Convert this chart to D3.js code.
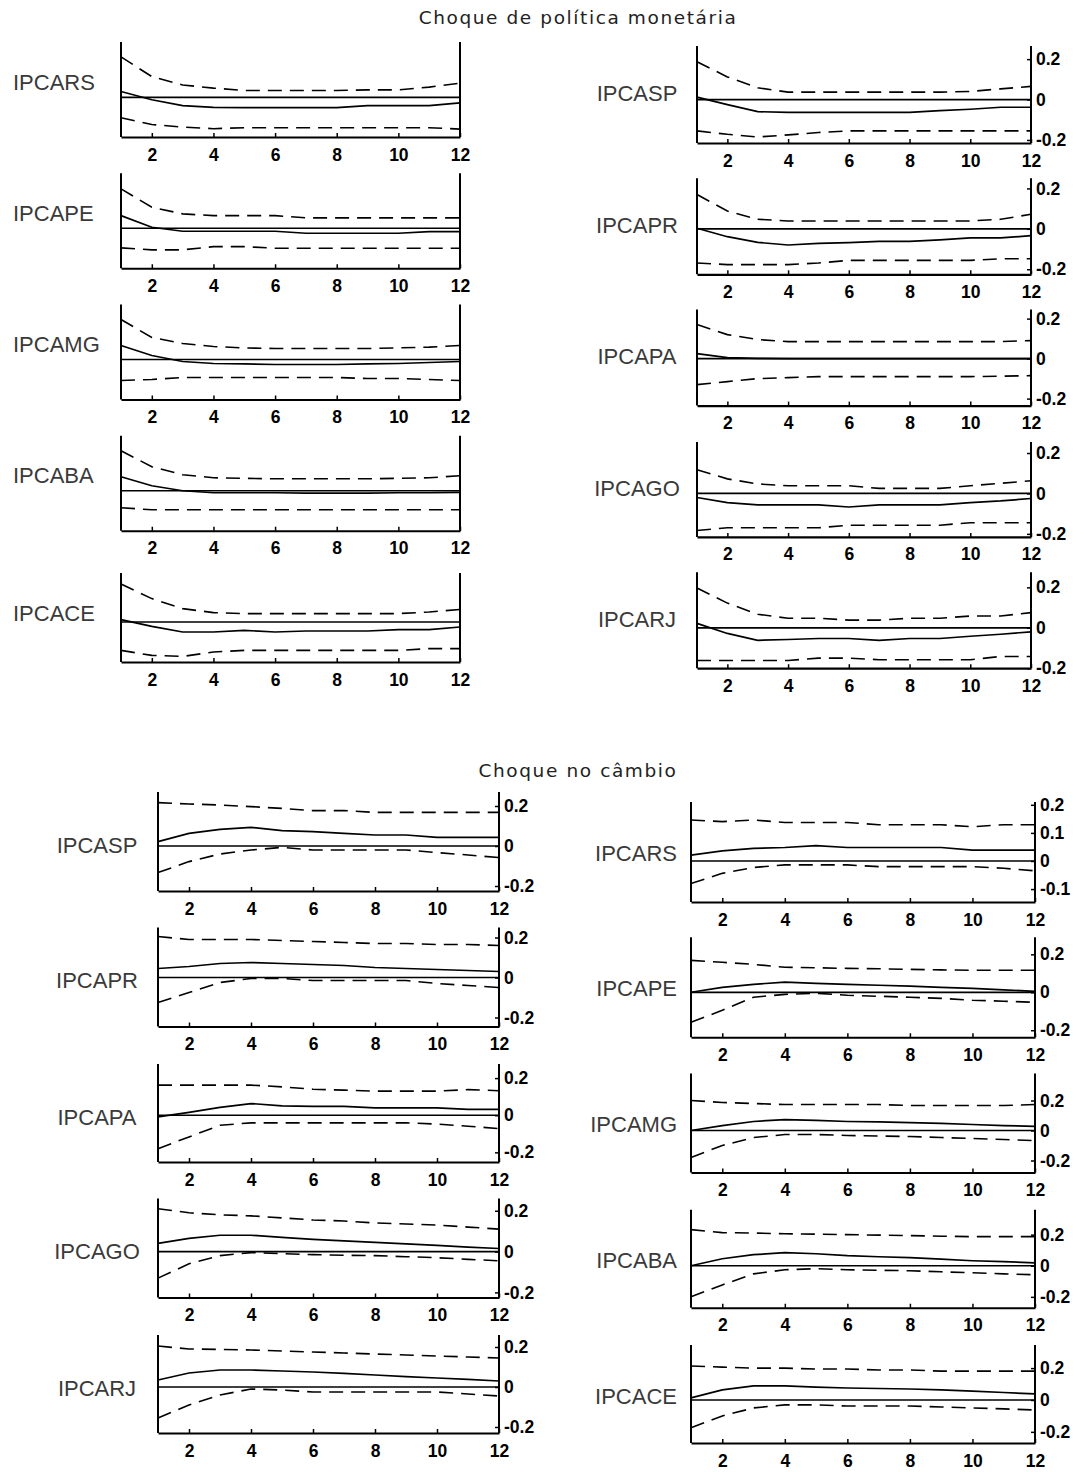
<!DOCTYPE html>
<html>
<head>
<meta charset="utf-8">
<script src="https://cdn.jsdelivr.net/npm/d3@7"></script>
<style>
  body { margin: 0; background: #fff; }
</style>
</head>
<body>
<svg id="chart" width="1091" height="1472"></svg>
<script>
// horizons and ticks
const horizons = [1, 2, 3, 4, 5, 6, 7, 8, 9, 10, 11, 12];
const xTickValues = [2, 4, 6, 8, 10, 12];
const yTicksStd = [-0.2, 0, 0.2];
const yTicksRS = [-0.1, 0, 0.1, 0.2];

const titleMonetary = "Choque de política monetária";
const titleExchange = "Choque no câmbio";

const mpLeftNames = ["IPCARS", "IPCAPE", "IPCAMG", "IPCABA", "IPCACE"];
const mpRightNames = ["IPCASP", "IPCAPR", "IPCAPA", "IPCAGO", "IPCARJ"];
const fxLeftNames = ["IPCASP", "IPCAPR", "IPCAPA", "IPCAGO", "IPCARJ"];
const fxRightNames = ["IPCARS", "IPCAPE", "IPCAMG", "IPCABA", "IPCACE"];

// ---- monetary policy shock ----
const mpRS_up = [0.205, 0.105, 0.063, 0.047, 0.035, 0.035, 0.035, 0.035, 0.038, 0.038, 0.052, 0.072];
const mpRS_irf = [0.03, -0.012, -0.041, -0.05, -0.052, -0.052, -0.052, -0.052, -0.041, -0.041, -0.041, -0.028];
const mpRS_lo = [-0.103, -0.137, -0.15, -0.158, -0.153, -0.153, -0.153, -0.153, -0.153, -0.153, -0.153, -0.16];

const mpPE_up = [0.197, 0.105, 0.072, 0.063, 0.063, 0.063, 0.052, 0.052, 0.052, 0.052, 0.052, 0.052];
const mpPE_irf = [0.063, 0.005, -0.015, -0.015, -0.015, -0.015, -0.025, -0.025, -0.025, -0.025, -0.017, -0.017];
const mpPE_lo = [-0.098, -0.108, -0.108, -0.092, -0.092, -0.1, -0.1, -0.1, -0.1, -0.1, -0.1, -0.1];

const mpMG_up = [0.2, 0.11, 0.08, 0.065, 0.058, 0.055, 0.055, 0.055, 0.055, 0.058, 0.062, 0.07];
const mpMG_irf = [0.07, 0.02, -0.01, -0.02, -0.022, -0.025, -0.025, -0.025, -0.022, -0.02, -0.015, -0.01];
const mpMG_lo = [-0.105, -0.1, -0.09, -0.09, -0.09, -0.09, -0.09, -0.09, -0.095, -0.095, -0.1, -0.105];

const mpBA_up = [0.2, 0.12, 0.08, 0.065, 0.062, 0.06, 0.06, 0.06, 0.06, 0.062, 0.065, 0.075];
const mpBA_irf = [0.07, 0.025, 0, -0.01, -0.01, -0.01, -0.012, -0.012, -0.012, -0.01, -0.01, -0.008];
const mpBA_lo = [-0.085, -0.095, -0.095, -0.095, -0.095, -0.095, -0.095, -0.095, -0.095, -0.095, -0.095, -0.095];

const mpCE_up = [0.19, 0.117, 0.067, 0.047, 0.042, 0.042, 0.042, 0.042, 0.042, 0.042, 0.05, 0.063];
const mpCE_irf = [0.012, -0.022, -0.05, -0.05, -0.042, -0.05, -0.045, -0.045, -0.045, -0.038, -0.038, -0.025];
const mpCE_lo = [-0.142, -0.167, -0.172, -0.15, -0.142, -0.142, -0.142, -0.142, -0.142, -0.142, -0.133, -0.133];

const mpSP_up = [0.187, 0.112, 0.058, 0.037, 0.037, 0.037, 0.037, 0.037, 0.037, 0.04, 0.053, 0.065];
const mpSP_irf = [0.012, -0.025, -0.06, -0.063, -0.063, -0.063, -0.063, -0.063, -0.055, -0.048, -0.038, -0.038];
const mpSP_lo = [-0.155, -0.172, -0.185, -0.175, -0.163, -0.155, -0.155, -0.155, -0.155, -0.155, -0.155, -0.155];

const mpPR_up = [0.17, 0.088, 0.047, 0.039, 0.039, 0.039, 0.039, 0.039, 0.039, 0.039, 0.047, 0.072];
const mpPR_irf = [0.003, -0.039, -0.067, -0.08, -0.072, -0.068, -0.062, -0.062, -0.055, -0.045, -0.045, -0.034];
const mpPR_lo = [-0.169, -0.177, -0.177, -0.177, -0.169, -0.156, -0.156, -0.156, -0.156, -0.156, -0.148, -0.148];

const mpPA_up = [0.17, 0.12, 0.095, 0.085, 0.085, 0.085, 0.085, 0.085, 0.085, 0.085, 0.085, 0.09];
const mpPA_irf = [0.025, 0.005, 0.001, 0, 0, 0, 0, 0, 0, 0, 0, 0];
const mpPA_lo = [-0.13, -0.115, -0.1, -0.095, -0.09, -0.09, -0.09, -0.09, -0.09, -0.09, -0.088, -0.085];

const mpGO_up = [0.117, 0.072, 0.047, 0.038, 0.038, 0.038, 0.025, 0.025, 0.025, 0.038, 0.05, 0.063];
const mpGO_irf = [-0.02, -0.045, -0.057, -0.057, -0.057, -0.067, -0.057, -0.057, -0.057, -0.045, -0.037, -0.025];
const mpGO_lo = [-0.183, -0.17, -0.17, -0.17, -0.17, -0.157, -0.157, -0.157, -0.157, -0.145, -0.145, -0.145];

const mpRJ_up = [0.197, 0.122, 0.067, 0.047, 0.047, 0.038, 0.038, 0.047, 0.047, 0.058, 0.058, 0.075];
const mpRJ_irf = [0.022, -0.028, -0.062, -0.058, -0.053, -0.053, -0.062, -0.053, -0.053, -0.042, -0.032, -0.02];
const mpRJ_lo = [-0.162, -0.162, -0.162, -0.162, -0.15, -0.15, -0.158, -0.158, -0.158, -0.158, -0.142, -0.142];

// ---- exchange rate shock ----
const fxSP_up = [0.217, 0.21, 0.205, 0.197, 0.188, 0.177, 0.177, 0.168, 0.168, 0.168, 0.168, 0.168];
const fxSP_irf = [0.022, 0.063, 0.083, 0.093, 0.077, 0.072, 0.063, 0.055, 0.055, 0.043, 0.043, 0.043];
const fxSP_lo = [-0.133, -0.078, -0.04, -0.02, -0.007, -0.02, -0.02, -0.02, -0.02, -0.033, -0.045, -0.058];

const fxPR_up = [0.205, 0.19, 0.19, 0.19, 0.185, 0.18, 0.175, 0.17, 0.17, 0.165, 0.165, 0.16];
const fxPR_irf = [0.045, 0.055, 0.07, 0.075, 0.07, 0.065, 0.06, 0.05, 0.045, 0.04, 0.035, 0.03];
const fxPR_lo = [-0.125, -0.075, -0.025, -0.005, -0.005, -0.015, -0.015, -0.015, -0.015, -0.03, -0.04, -0.05];

const fxPA_up = [0.162, 0.162, 0.162, 0.162, 0.153, 0.14, 0.135, 0.13, 0.13, 0.13, 0.138, 0.132];
const fxPA_irf = [-0.009, 0.015, 0.042, 0.063, 0.05, 0.048, 0.048, 0.04, 0.04, 0.04, 0.031, 0.031];
const fxPA_lo = [-0.18, -0.117, -0.054, -0.041, -0.041, -0.041, -0.041, -0.041, -0.041, -0.048, -0.059, -0.072];

const fxGO_up = [0.21, 0.19, 0.18, 0.175, 0.165, 0.155, 0.15, 0.14, 0.135, 0.13, 0.12, 0.11];
const fxGO_irf = [0.04, 0.065, 0.08, 0.08, 0.07, 0.06, 0.052, 0.045, 0.038, 0.03, 0.022, 0.015];
const fxGO_lo = [-0.13, -0.06, -0.02, -0.005, -0.01, -0.015, -0.018, -0.02, -0.025, -0.03, -0.038, -0.045];

const fxRJ_up = [0.205, 0.19, 0.188, 0.185, 0.18, 0.175, 0.17, 0.165, 0.16, 0.155, 0.15, 0.145];
const fxRJ_irf = [0.035, 0.07, 0.085, 0.085, 0.08, 0.075, 0.068, 0.06, 0.052, 0.045, 0.038, 0.03];
const fxRJ_lo = [-0.155, -0.09, -0.04, -0.01, -0.015, -0.025, -0.025, -0.025, -0.025, -0.025, -0.035, -0.045];

const fxRS_up = [0.146, 0.14, 0.146, 0.137, 0.137, 0.137, 0.129, 0.129, 0.129, 0.122, 0.129, 0.129];
const fxRS_irf = [0.021, 0.036, 0.045, 0.048, 0.055, 0.048, 0.048, 0.048, 0.048, 0.039, 0.039, 0.039];
const fxRS_lo = [-0.08, -0.044, -0.023, -0.014, -0.014, -0.014, -0.02, -0.02, -0.02, -0.02, -0.026, -0.035];

const fxPE_up = [0.168, 0.158, 0.147, 0.132, 0.129, 0.126, 0.124, 0.121, 0.118, 0.116, 0.116, 0.116];
const fxPE_irf = [0, 0.026, 0.042, 0.053, 0.047, 0.042, 0.037, 0.032, 0.026, 0.021, 0.013, 0.005];
const fxPE_lo = [-0.158, -0.095, -0.026, -0.011, -0.005, -0.016, -0.021, -0.026, -0.032, -0.042, -0.047, -0.053];

const fxMG_up = [0.2, 0.187, 0.18, 0.173, 0.173, 0.173, 0.173, 0.167, 0.167, 0.167, 0.167, 0.173];
const fxMG_irf = [0, 0.033, 0.06, 0.073, 0.067, 0.06, 0.057, 0.053, 0.047, 0.04, 0.033, 0.027];
const fxMG_lo = [-0.18, -0.1, -0.047, -0.027, -0.027, -0.033, -0.037, -0.04, -0.047, -0.053, -0.06, -0.067];

const fxBA_up = [0.232, 0.213, 0.21, 0.206, 0.203, 0.2, 0.197, 0.194, 0.19, 0.187, 0.187, 0.187];
const fxBA_irf = [0, 0.045, 0.071, 0.084, 0.077, 0.065, 0.058, 0.052, 0.042, 0.032, 0.026, 0.019];
const fxBA_lo = [-0.2, -0.123, -0.052, -0.026, -0.019, -0.026, -0.029, -0.032, -0.039, -0.045, -0.052, -0.058];

const fxCE_up = [0.213, 0.206, 0.2, 0.2, 0.194, 0.194, 0.188, 0.188, 0.181, 0.181, 0.181, 0.181];
const fxCE_irf = [0.013, 0.063, 0.088, 0.088, 0.081, 0.075, 0.072, 0.069, 0.063, 0.056, 0.047, 0.038];
const fxCE_lo = [-0.175, -0.1, -0.05, -0.031, -0.031, -0.038, -0.038, -0.038, -0.044, -0.05, -0.056, -0.063];

// y domains of each panel (value at bottom, value at top)
const mpLeftDomains = [[-0.2, 0.28], [-0.2, 0.275], [-0.2, 0.275], [-0.2, 0.275], [-0.2, 0.245]];
const mpRightDomains = [[-0.215, 0.265], [-0.225, 0.25], [-0.235, 0.245], [-0.215, 0.255], [-0.2, 0.275]];
const fxLeftDomains = [[-0.225, 0.27], [-0.245, 0.25], [-0.252, 0.276], [-0.225, 0.26], [-0.23, 0.26]];
const fxRightDomains = [[-0.146, 0.21], [-0.237, 0.29], [-0.28, 0.38], [-0.27, 0.36], [-0.27, 0.345]];

const mpLeftSeries = [[mpRS_irf, mpRS_up, mpRS_lo], [mpPE_irf, mpPE_up, mpPE_lo], [mpMG_irf, mpMG_up, mpMG_lo], [mpBA_irf, mpBA_up, mpBA_lo], [mpCE_irf, mpCE_up, mpCE_lo]];
const mpRightSeries = [[mpSP_irf, mpSP_up, mpSP_lo], [mpPR_irf, mpPR_up, mpPR_lo], [mpPA_irf, mpPA_up, mpPA_lo], [mpGO_irf, mpGO_up, mpGO_lo], [mpRJ_irf, mpRJ_up, mpRJ_lo]];
const fxLeftSeries = [[fxSP_irf, fxSP_up, fxSP_lo], [fxPR_irf, fxPR_up, fxPR_lo], [fxPA_irf, fxPA_up, fxPA_lo], [fxGO_irf, fxGO_up, fxGO_lo], [fxRJ_irf, fxRJ_up, fxRJ_lo]];
const fxRightSeries = [[fxRS_irf, fxRS_up, fxRS_lo], [fxPE_irf, fxPE_up, fxPE_lo], [fxMG_irf, fxMG_up, fxMG_lo], [fxBA_irf, fxBA_up, fxBA_lo], [fxCE_irf, fxCE_up, fxCE_lo]];

const svg = d3.select("#chart");
const labelFont = "'Liberation Sans', Arial, sans-serif";
const titleFont = "'DejaVu Sans', Verdana, sans-serif";

function drawPanel(box, name, series, domain, yTicks, label) {
  const g = svg.append("g");
  const x = d3.scaleLinear().domain([1, 12]).range([box.x0, box.x1]);
  const y = d3.scaleLinear().domain(domain).range([box.bottom, box.top]);

  // bottom axis, ticks pointing into the plot
  const ax = g.append("g")
    .attr("transform", "translate(0," + box.bottom + ")")
    .call(d3.axisBottom(x).tickValues(xTickValues).tickSizeInner(-4).tickSizeOuter(0).tickPadding(11));
  ax.select(".domain").attr("stroke", "#000").attr("stroke-width", 2.2);
  ax.selectAll(".tick line").attr("stroke", "#000").attr("stroke-width", 1.5);
  ax.selectAll(".tick text")
    .attr("font-family", labelFont).attr("font-weight", "bold")
    .attr("font-size", 17.5).attr("fill", "#000").attr("dy", "0.72em");

  // left frame line
  g.append("line")
    .attr("x1", box.x0).attr("x2", box.x0)
    .attr("y1", box.top).attr("y2", box.bottom)
    .attr("stroke", "#000").attr("stroke-width", 2);

  // right frame line, with ticks where labelled
  if (yTicks) {
    const ay = g.append("g")
      .attr("transform", "translate(" + box.x1 + ",0)")
      .call(d3.axisRight(y).tickValues(yTicks).tickSizeInner(-4).tickSizeOuter(0).tickPadding(5)
        .tickFormat(d => String(d)));
    ay.select(".domain").remove();
    ay.selectAll(".tick line").attr("stroke", "#000").attr("stroke-width", 1.5);
    ay.selectAll(".tick text")
      .attr("font-family", labelFont).attr("font-weight", "bold")
      .attr("font-size", 17.5).attr("fill", "#000");
  }
  g.append("line")
    .attr("x1", box.x1).attr("x2", box.x1)
    .attr("y1", box.top).attr("y2", box.bottom)
    .attr("stroke", "#000").attr("stroke-width", 2);

  // zero line
  g.append("line")
    .attr("x1", box.x0).attr("x2", box.x1)
    .attr("y1", y(0)).attr("y2", y(0))
    .attr("stroke", "#000").attr("stroke-width", 1.7);

  const line = d3.line().x((d, i) => x(horizons[i])).y(d => y(d));
  const [irf, up, lo] = series;
  g.append("path").datum(irf).attr("d", line)
    .attr("fill", "none").attr("stroke", "#000").attr("stroke-width", 1.7);
  [up, lo].forEach(s => {
    g.append("path").datum(s).attr("d", line)
      .attr("fill", "none").attr("stroke", "#000").attr("stroke-width", 1.6)
      .attr("stroke-dasharray", "14,8");
  });

  g.append("text")
    .attr("x", label.x).attr("y", box.top + label.dy)
    .attr("text-anchor", label.anchor)
    .attr("dominant-baseline", "central")
    .attr("font-family", labelFont).attr("font-size", 22)
    .attr("fill", "#3a3a3a")
    .text(name);
}

function drawColumn(col) {
  col.names.forEach((name, i) => {
    const bottom = col.bottom0 + i * col.pitch;
    const box = { x0: col.x0, x1: col.x1, bottom: bottom, top: bottom - col.height[i] };
    drawPanel(box, name, col.series[i], col.domains[i], col.ticks ? col.ticks[i] : null, col.label);
  });
}

drawColumn({ names: mpLeftNames, series: mpLeftSeries, domains: mpLeftDomains, ticks: null,
  x0: 121, x1: 460, bottom0: 137, pitch: 131.25, height: [95, 95, 95, 95, 89],
  label: { x: 13, dy: 40, anchor: "start" } });
drawColumn({ names: mpRightNames, series: mpRightSeries, domains: mpRightDomains,
  ticks: [yTicksStd, yTicksStd, yTicksStd, yTicksStd, yTicksStd],
  x0: 697, x1: 1031, bottom0: 143, pitch: 131.3, height: [97, 96, 96, 95, 96],
  label: { x: 637, dy: 47, anchor: "middle" } });
drawColumn({ names: fxLeftNames, series: fxLeftSeries, domains: fxLeftDomains,
  ticks: [yTicksStd, yTicksStd, yTicksStd, yTicksStd, yTicksStd],
  x0: 158, x1: 499, bottom0: 891, pitch: 135.5, height: [99, 99, 98, 99, 98],
  label: { x: 97, dy: 53, anchor: "middle" } });
drawColumn({ names: fxRightNames, series: fxRightSeries, domains: fxRightDomains,
  ticks: [yTicksRS, yTicksStd, yTicksStd, yTicksStd, yTicksStd],
  x0: 691, x1: 1035, bottom0: 902, pitch: 135.25, height: [100, 100, 99, 98, 98],
  label: { x: 677, dy: 51, anchor: "end" } });

svg.append("text")
  .attr("x", 578).attr("y", 17)
  .attr("text-anchor", "middle").attr("dominant-baseline", "central")
  .attr("font-family", titleFont).attr("font-size", 18.5)
  .attr("letter-spacing", 1.6).attr("fill", "#222")
  .text(titleMonetary);
svg.append("text")
  .attr("x", 578).attr("y", 770)
  .attr("text-anchor", "middle").attr("dominant-baseline", "central")
  .attr("font-family", titleFont).attr("font-size", 18.5)
  .attr("letter-spacing", 1.6).attr("fill", "#222")
  .text(titleExchange);
</script>
</body>
</html>
